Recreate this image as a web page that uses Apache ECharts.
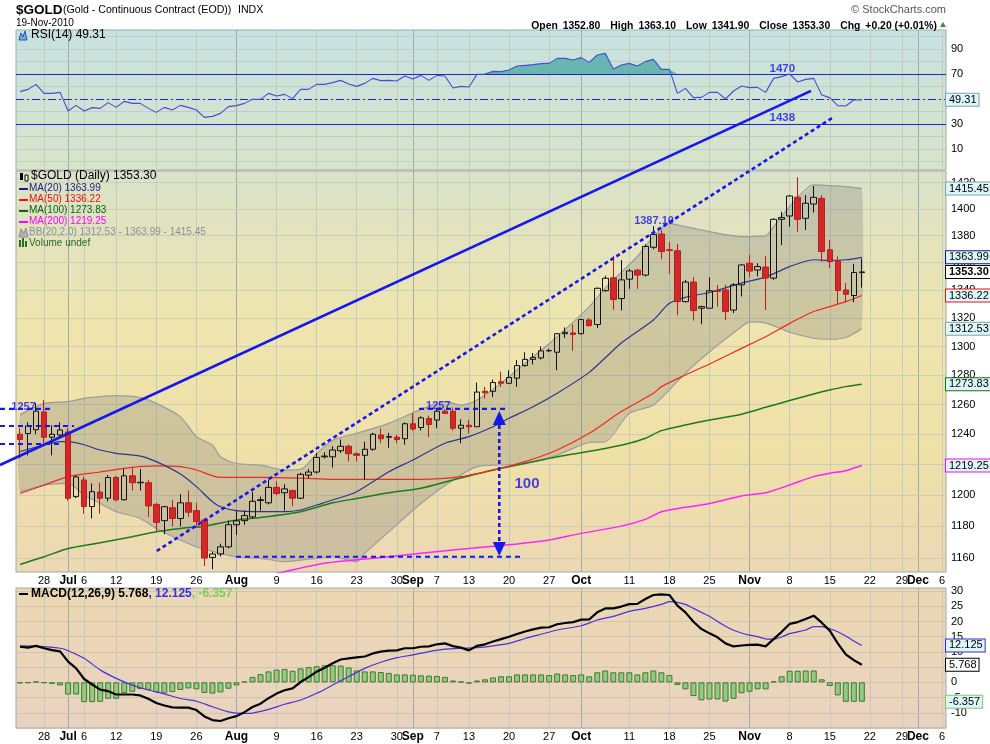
<!DOCTYPE html>
<html><head><meta charset="utf-8">
<script src="https://cdn.jsdelivr.net/npm/echarts@6/dist/echarts.min.js"></script>
<style>html,body{margin:0;padding:0;background:#fff}#c{width:990px;height:744px}</style>
</head><body><div id="c"></div>
<script>
// ---------------- DATA ----------------
const holidays = ['2010-07-05','2010-09-06','2010-11-25'];
const dates = [];
for (let d = new Date(Date.UTC(2010,5,23)); d <= new Date(Date.UTC(2010,11,6)); d.setUTCDate(d.getUTCDate()+1)) {
  const wd = d.getUTCDay(); const s = d.toISOString().slice(0,10);
  if (wd === 0 || wd === 6 || holidays.includes(s)) continue;
  dates.push(s);
}
const tickIdx  = [3,6,8,12,17,22,27,32,37,42,47,49,52,56,61,66,70,76,81,86,91,96,101,106,110,112,115];
const tickText = ['28','Jul','6','12','19','26','Aug','9','16','23','30','Sep','7','13','20','27','Oct','11','18','25','Nov','8','15','22','29','Dec','6'];
const monthIdx = [6,27,49,70,91,112];

const opens = [1240,1240.5,1243,1255,1238,1239.5,1241.5,1199,1209.8,1192.6,1202,1198,1211.4,1197,1212.5,1208,1208,1194,1183.6,1191.8,1185,1195,1190,1184,1160.4,1162.5,1167,1181,1183.6,1186,1196.5,1195,1205,1201.5,1203,1198,1213,1215,1225,1225,1229,1232,1227,1226,1230,1239.5,1238,1238,1237,1247,1244.5,1250.5,1249.5,1255.5,1255.5,1244,1246,1245,1269,1269,1275.5,1274.5,1278,1286.7,1291,1292,1297,1296,1309,1309.5,1309,1318.7,1315.5,1339.7,1349,1334,1348,1354.6,1351,1371.4,1381.2,1369.5,1368.8,1331.8,1345.9,1327.1,1327.1,1339.8,1340.2,1325.8,1343.9,1359.6,1354.7,1356.8,1348.8,1392.2,1394.7,1408.8,1393,1403.7,1408,1369.5,1361.3,1340.2,1336.2,1352.8];
const closes = [1236.5,1245.5,1255.5,1238,1240,1242.8,1198,1211.8,1192.6,1202.2,1198,1211.4,1197,1212.5,1208,1208.3,1193,1182.5,1192.5,1185,1195,1189,1183,1160,1162.5,1167,1181,1183.5,1186.8,1196,1197,1205,1201,1204,1198,1213.5,1215,1224.6,1225.5,1229.5,1232,1227,1226,1230,1240,1237,1238.5,1236.5,1247,1243.5,1251,1246.5,1255.5,1254,1244,1246,1245,1268.5,1268,1275,1274.5,1278.5,1286.7,1291,1292.4,1297,1297.2,1309,1310,1308.5,1319,1314.7,1341.4,1348.7,1333.4,1347.5,1354,1351,1372,1380.9,1368.2,1369,1331.8,1345.9,1325.4,1328.2,1339.6,1339.2,1324.7,1343.9,1358.4,1353.9,1357.2,1348.8,1392.2,1393.5,1409.8,1392.2,1404.3,1408.8,1368.2,1360.8,1339.8,1337.1,1352.9,1353.3];
const lows = [1224,1226,1240,1234,1226,1237,1196.4,1198,1188,1185,1188,1196,1196,1196.5,1203,1203,1186,1177,1175,1180,1180,1186,1180,1155,1153,1161,1166,1174.5,1181,1185,1190,1194,1200,1190,1193,1197.5,1211,1214,1224,1218,1227.5,1222,1222,1210,1229,1234,1231,1234,1233,1242.5,1242.5,1238,1244,1254,1242.5,1234,1240.5,1245,1264,1265,1272,1274.5,1272,1286,1287.5,1291,1296,1283.5,1306,1297,1308.5,1314,1313,1339,1326,1325.5,1341,1341,1350,1369.9,1362.6,1352,1322,1331.2,1318.3,1315.7,1327,1328.2,1318.7,1323.6,1335.5,1349.5,1350,1325.8,1347.5,1373,1386.7,1383,1384.2,1397.2,1360.8,1356.1,1330.3,1331.2,1331.4,1341.9];
const highs = [1244,1248,1261,1263,1246,1248,1244,1213,1212,1207.6,1208,1213,1212.5,1217,1218,1217,1210,1195,1193,1197,1200.6,1203,1195,1185,1164,1169,1183.7,1190,1190,1202,1199,1210,1209,1207,1203.5,1214.5,1217,1227.5,1228,1232,1236.5,1233,1228,1235,1241,1244,1241,1239.5,1248,1254,1252,1252.5,1257,1257,1258,1250,1249.5,1275,1272,1277,1282.5,1283.5,1290.5,1296,1295.5,1300,1298.5,1309.5,1313.5,1315.5,1319.5,1319.8,1342,1350.5,1365,1362,1355.5,1355.5,1373.5,1387.1,1384.2,1375.5,1373.8,1347.5,1349.5,1329,1349.5,1343.9,1343.9,1345.2,1359,1365.7,1359.6,1365,1393,1397.9,1410.5,1424.2,1410.5,1417.4,1410.5,1376.8,1364.6,1345.2,1359.2,1363.1];

// moving averages / bands: [day index, value]
const ma20 = [[0,1228.5],[3,1232.8],[5,1235],[6,1235],[8,1233],[10,1229.5],[12,1227.3],[15,1225.5],[17,1221.8],[20,1213.7],[22,1205.5],[24,1195.7],[25,1192.5],[27,1190],[30,1189.3],[33,1189.3],[35,1190.4],[37,1193.6],[39,1196.8],[42,1202.2],[46,1215.2],[49,1222.9],[53,1234],[56,1238.4],[59,1245],[61,1250.7],[64,1258.5],[67,1267.7],[71,1282],[75,1302.4],[79,1318.7],[81,1330.6],[83,1334.9],[86,1338.4],[90,1345.2],[93,1349.5],[96,1357.2],[99,1362.2],[101,1361.7],[103,1362.2],[105,1363.99]];
const ma50 = [[0,1201],[3,1206.5],[6,1212],[10,1215],[14,1218],[17,1219],[20,1218.5],[22,1216.3],[25,1211.5],[30,1211.5],[35,1211],[39,1210.2],[42,1210.2],[50,1210.2],[55,1212],[59,1216.3],[63,1221.8],[67,1229.5],[71,1240.6],[75,1255.2],[79,1267.6],[80,1272.2],[83,1280.2],[86,1287.8],[90,1298.7],[93,1306.9],[96,1316.3],[99,1324.7],[101,1328.2],[103,1331.8],[105,1336.22]];
const ma100 = [[0,1156],[3,1160.8],[6,1166],[10,1169.6],[14,1173.4],[17,1176.5],[20,1178.6],[23,1180.1],[27,1184],[30,1185.6],[35,1189.3],[39,1195],[42,1197.8],[46,1201.5],[50,1204.4],[54,1209.8],[59,1216.3],[63,1220.6],[67,1225],[72,1229.5],[76,1234],[78,1237.3],[80,1242.4],[83,1246.2],[86,1249.5],[90,1253.4],[93,1258.1],[96,1262.7],[99,1267.2],[101,1269.9],[103,1272.2],[105,1273.83]];
const ma200 = [[31,1149.5],[33,1151.5],[38,1156.7],[46,1160.8],[54,1165],[62,1168.8],[66,1171.3],[70,1175.5],[75,1180.1],[78,1184.4],[80,1189.3],[83,1192.1],[86,1194.6],[90,1199.4],[93,1201.5],[96,1206.5],[99,1212],[101,1214.2],[103,1215.9],[105,1219.25]];
const bbUpper = [[0,1253],[3,1260.8],[6,1262],[8,1264.2],[10,1265.4],[12,1266],[15,1264.7],[17,1260.8],[20,1251.8],[22,1238.4],[24,1232.8],[25,1225],[27,1220.6],[30,1219.5],[33,1216.3],[35,1216.7],[37,1227],[39,1236],[42,1240.6],[46,1247.3],[50,1256.7],[53,1262],[55,1259.6],[57,1263.1],[60,1274.5],[63,1288.3],[67,1306.9],[71,1328.2],[73,1341.5],[77,1364.6],[79,1379.3],[81,1389],[83,1386.7],[86,1383],[90,1379.3],[93,1379.8],[94,1386.7],[96,1401.7],[99,1418.2],[101,1417.7],[103,1416.9],[105,1415.45]];
const bbLower = [[0,1202.2],[3,1206.5],[6,1207.6],[8,1200],[10,1194.6],[12,1189.3],[15,1185],[17,1178.6],[20,1171.3],[22,1167.1],[25,1162.9],[27,1160.8],[30,1159.8],[33,1157.7],[35,1158.7],[37,1159.8],[39,1160.8],[42,1157.7],[43,1162.9],[46,1176.5],[50,1194.6],[54,1209.8],[57,1218.5],[60,1219.6],[63,1220.6],[67,1226.2],[71,1234.5],[73,1235],[76,1254],[79,1259.6],[83,1281.5],[86,1296.3],[90,1313.9],[91,1317.4],[93,1316.7],[96,1310],[99,1305.8],[101,1305.1],[103,1306.3],[105,1312.53]];

const rsi = [55.9,57.7,61.7,54.5,54.5,55.3,40.4,44.9,40.4,43.1,42.5,47.1,43.3,48.1,46.5,46.5,42.5,39.3,43.3,41.2,44.9,43.3,41.2,35.3,36.1,38.5,43.9,44.7,46.5,49.7,49.7,54.5,52.4,53.7,50.3,57.7,57.7,61.7,61.7,63.1,64.9,62,60.1,62.5,66.5,64.7,64.9,64.4,68.4,66,68.9,64.9,68.9,68.4,58.8,60.1,59.6,69.7,70,72.1,71.9,73.2,76.4,76.9,77.5,78.3,78.5,82.5,82.5,81.2,83.1,79.3,85.2,86.5,74,77.2,78.5,76.4,79.9,81.7,73.7,73.7,54.5,58.5,51.1,51.3,55.3,55.3,50,56.4,60.4,59.1,59.3,55.3,66.5,67.9,70,63.6,65.7,66.5,53.2,51.1,44.7,44.4,49.2,49.31];

const macd = [11.7,11.4,12.0,11.2,10.6,10.2,6.8,4.6,1.1,-0.7,-2.4,-2.9,-4.0,-4.0,-4.0,-4.3,-5.4,-6.8,-7.6,-8.2,-8.3,-8.3,-9.1,-11.2,-12.4,-12.7,-11.8,-11.1,-9.8,-8.1,-7.0,-5.2,-3.7,-2.6,-2.0,0.1,1.7,3.5,4.8,6.3,7.5,7.9,8.2,8.5,9.5,10.1,10.4,10.5,11.2,11.2,11.7,11.8,12.5,12.8,11.9,11.4,10.5,12.0,12.5,13.4,14.2,15.0,15.9,16.7,17.4,18.0,18.1,19.1,19.5,19.8,20.6,20.7,23.0,24.3,24.3,24.9,25.7,25.8,27.4,28.7,28.9,28.7,25.2,23.0,19.9,17.5,16.1,14.8,12.8,11.8,12.1,12.3,12.4,11.8,14.2,16.6,19.2,19.8,20.8,21.9,19.6,17.0,12.8,9.2,7.3,5.768];
const signal = [[0,12.0],[2,11.9],[5,11.2],[6,10.4],[8,7.9],[10,4.1],[12,1.3],[14,-0.9],[16,-2.5],[18,-3.8],[20,-5.3],[22,-6.2],[24,-8.0],[26,-9.7],[28,-10.2],[29,-10.1],[31,-8.9],[33,-7.2],[35,-5.8],[37,-3.6],[39,-0.9],[41,1.9],[43,4.6],[45,6.6],[47,8.1],[49,9.0],[51,10.1],[53,10.9],[55,11.2],[57,11.4],[59,12.0],[61,12.8],[63,14.4],[65,15.8],[67,17.2],[70,18.6],[72,20.5],[74,21.7],[76,23.3],[78,24.3],[80,25.6],[81,26.5],[82,26.3],[83,25.6],[84,24.3],[85,23.0],[86,21.7],[87,20.0],[88,18.4],[89,17.1],[90,16.2],[91,15.5],[92,15.0],[93,14.3],[94,14.2],[95,14.9],[96,16.0],[97,16.6],[98,17.2],[99,18.3],[100,18.3],[101,17.6],[102,16.6],[103,15.2],[104,13.6],[105,12.125]];
const hist = [-0.3,-0.2,0.2,-0.2,-0.5,-1.0,-4.0,-4.0,-6.5,-6.5,-6.4,-5.4,-5.4,-3.5,-3.1,-2.2,-2.5,-3.2,-3.6,-3.2,-2.5,-2.0,-2.3,-3.5,-3.7,-3.3,-2.1,-1.0,0.3,1.8,2.7,3.6,4.2,4.4,3.8,4.6,5.0,5.3,5.6,5.6,5.5,4.9,3.9,3.6,3.6,3.4,3.1,2.6,2.6,2.5,2.3,2.2,2.1,1.8,0.6,0.2,-0.4,0.6,1.0,1.6,2.0,2.0,2.6,2.6,2.6,2.6,2.4,2.9,2.6,2.4,2.6,2.0,3.3,3.9,3.3,3.3,3.3,2.6,3.3,3.9,3.3,2.4,-0.9,-2.3,-4.5,-5.9,-5.6,-5.6,-6.3,-5.4,-3.6,-3.1,-2.3,-2.3,0.3,2.0,3.8,3.8,3.9,3.9,1.0,-1.2,-4.3,-6.4,-6.4,-6.357];

// axis tick values
const rsiTicks = [0,10,20,30,40,50,60,70,80,90,100];
const rsiLabels = [10,30,70,90];
const priceTicks = [1160,1180,1200,1220,1240,1260,1280,1300,1320,1340,1360,1380,1400,1420];
const macdTicks = [-15,-10,-5,0,5,10,15,20,25,30];

// hand-drawn annotations: [x1, price1, x2, price2] in day positions
const annoSegs = [
  [-2.5,1219.6, 98.66,1491.9],   // solid trend line
  [17.05,1164.4, 101.57,1471.4], // dotted channel line
  [-2.5,1257, 3.99,1257],
  [-2.5,1245.5, 6.73,1245.5],
  [-2.5,1233.5, 4.99,1233.5],
  [26.94,1160.8, 62.37,1160.8],
  [49.77,1257, 60.75,1257]
];
const annoKind = ['solid','dot','dash','dash','dash','dash','dash'];
const arrowPts = [[59.78,1250.9],[59.78,1165.6]];
const priceNotes = [{value:[0.44,1258.6],name:'1257'},{value:[52.18,1258.9],name:'1257'},{value:[79.08,1391.1],name:'1387.10'}];
const bigNote = [{value:[63.24,1207.5],name:'100'}];
const rsiNotes = [{value:[95.09,74.4],name:'1470'},{value:[95.09,35.2],name:'1438'}];

// ---------------- CHART ----------------
const FONT = "Arial, 'Liberation Sans', sans-serif";
const BLUE = '#1616ee';
const last = a => { const v = a[a.length-1]; return Array.isArray(v) ? v[1] : v; };
const N = dates.length;
const candles = opens.map((o,i)=>[o, closes[i], lows[i], highs[i]]);

function vLines(){ return tickIdx.map(i=>({xAxis: dates[i], lineStyle:{color: monthIdx.includes(i)?'#9eaca6':'#c3cbbd', width:1, type:'solid'}})); }
function hLines(vals, labels, col){
  return vals.map(v=>({yAxis:v, lineStyle:{color:col||'#c5ccbd', width:1, type:'solid'},
    label: labels.includes(v) ? {show:true, position:'end', distance:5, formatter:String(v), color:'#000', fontSize:11, fontFamily:FONT} : {show:false}}));
}
function tag(v, txt, bg, bc, bold){
  return {yAxis:v, lineStyle:{width:0, color:'rgba(0,0,0,0)'},
    label:{show:true, position:'end', distance:0, formatter:txt, backgroundColor:bg, borderColor:bc, borderWidth:1,
      padding:[1,2,0,3], color:'#000', fontSize:11, fontFamily:FONT, fontWeight: bold?'bold':'normal', lineHeight:11}};
}
const mlBase = {silent:true, symbol:'none', animation:false, label:{show:false}};

function catAxis(g, labels){
  return {type:'category', gridIndex:g, data:dates, boundaryGap:true,
    axisLine:{show:false}, axisTick:{show:false}, splitLine:{show:false},
    axisLabel: labels ? {show:true, margin:3, fontSize:11, color:'#000', fontFamily:FONT,
      interval:(i)=>tickIdx.includes(i),
      formatter:(v,i)=>{ const k=tickIdx.indexOf(i); if(k<0) return ''; const t=tickText[k]; return monthIdx.includes(i)?'{b|'+t+'}':t; },
      rich:{b:{fontWeight:'bold', fontSize:12, color:'#000', fontFamily:FONT}}} : {show:false}};
}
const grad = (stops)=>({type:'linear', x:0, y:0, x2:0, y2:1, colorStops: stops.map(s=>({offset:s[0], color:s[1]}))});
const ts = (size, color, weight)=>({fontFamily:FONT, fontSize:size, color:color||'#000', fontWeight:weight||'normal'});

const titles = [
  {text:'$GOLD', left:16, top:3, textStyle:ts(13.5,'#000','bold')},
  {text:'(Gold - Continuous Contract (EOD))', left:63, top:5, textStyle:ts(10.6)},
  {text:'INDX', left:238, top:5, textStyle:ts(10.6)},
  {text:'19-Nov-2010', left:16, top:18, textStyle:ts(10)},
  {text:'© StockCharts.com', right:44, top:4, textStyle:ts(11,'#555')},
  {text:'{k|Open} {v|'+opens[105].toFixed(2)+'}  {k|High} {v|'+highs[105].toFixed(2)+'}  {k|Low} {v|'+lows[105].toFixed(2)+'}  {k|Close} {v|'+closes[105].toFixed(2)+'}  {k|Chg} {v|+0.20 (+0.01%)}',
   right:53, top:17, textStyle:{rich:{k:{fontFamily:FONT, fontWeight:'bold', fontSize:10.4, color:'#000', lineHeight:12}, v:{fontFamily:FONT, fontSize:10.4, color:'#000', lineHeight:12}}}},
  {text:'RSI(14) '+last(rsi).toFixed(2), left:31, top:29, textStyle:ts(12)},
  {text:'$GOLD (Daily) '+closes[105].toFixed(2), left:31, top:170, textStyle:ts(12)},
  {text:'MA(20) '+last(ma20).toFixed(2), left:29, top:183, textStyle:ts(10,'#1c1c88')},
  {text:'MA(50) '+last(ma50).toFixed(2), left:29, top:194, textStyle:ts(10,'#f01010')},
  {text:'MA(100) '+last(ma100).toFixed(2), left:29, top:205, textStyle:ts(10,'#086808')},
  {text:'MA(200) '+last(ma200).toFixed(2), left:29, top:216, textStyle:ts(10,'#ff00ff')},
  {text:'BB(20,2.0) '+last(bbLower).toFixed(2)+' - '+last(ma20).toFixed(2)+' - '+last(bbUpper).toFixed(2), left:29, top:227, textStyle:ts(10,'#8a9096')},
  {text:'Volume undef', left:29, top:238, textStyle:ts(10,'#2a6a2a')},
  {text:'{a|MACD(12,26,9) '+last(macd).toFixed(3)+'}{b|, '+last(signal).toFixed(3)+'}{c|, '+last(hist).toFixed(3)+'}', left:31, top:588,
   textStyle:{rich:{a:{fontFamily:FONT, fontSize:12, color:'#000'}, b:{fontFamily:FONT, fontSize:12, color:'#3030ee'}, c:{fontFamily:FONT, fontSize:12, color:'#7ccc60'}}}}
].map(t=>Object.assign({padding:0, itemGap:0}, t));

const graphic = [
  {type:'polygon', silent:true, z:50, shape:{points:[[940,27],[943,22],[946,27]]}, style:{fill:'#2c9a2c'}},
  {type:'polygon', silent:true, z:50, shape:{points:[[19,40],[21,33],[23,37],[25,31],[27,40]]}, style:{fill:'#6cbab6', stroke:'#2a4ad0', lineWidth:1}},
  {type:'rect', silent:true, z:50, shape:{x:20,y:173,width:3,height:7}, style:{fill:'#000'}},
  {type:'rect', silent:true, z:50, shape:{x:25,y:175,width:3,height:6}, style:{fill:'#fff', stroke:'#000', lineWidth:1}},
  {type:'rect', silent:true, z:50, shape:{x:19,y:188,width:9,height:2}, style:{fill:'#1c1c88'}},
  {type:'rect', silent:true, z:50, shape:{x:19,y:199,width:9,height:2}, style:{fill:'#f01010'}},
  {type:'rect', silent:true, z:50, shape:{x:19,y:210,width:9,height:2}, style:{fill:'#086808'}},
  {type:'rect', silent:true, z:50, shape:{x:19,y:221,width:9,height:2}, style:{fill:'#ff00ff'}},
  {type:'polygon', silent:true, z:50, shape:{points:[[19,237],[21,229],[24,233],[26,228],[28,237]]}, style:{fill:'#b0b4b0', stroke:'#8a9096', lineWidth:1}},
  {type:'rect', silent:true, z:50, shape:{x:19,y:240,width:2,height:7}, style:{fill:'#2a6a2a'}},
  {type:'rect', silent:true, z:50, shape:{x:22,y:238,width:2,height:9}, style:{fill:'#2a6a2a'}},
  {type:'rect', silent:true, z:50, shape:{x:25,y:241,width:2,height:6}, style:{fill:'#2a6a2a'}},
  {type:'rect', silent:true, z:50, shape:{x:19,y:593,width:9,height:2}, style:{fill:'#000'}}
];

const lineS = (x,y,data,color,width,extra)=>Object.assign({type:'line', xAxisIndex:x, yAxisIndex:y, data, symbol:'none', silent:true,
  lineStyle:{color, width}, z:3, animation:false}, extra||{});

const annoStyle = {
  solid:{stroke:BLUE, lineWidth:2.6, fill:null},
  dot:{stroke:BLUE, lineWidth:2.6, lineDash:[4,3], fill:null},
  dash:{stroke:BLUE, lineWidth:2.2, lineDash:[5,4], fill:null}
};

const option = {
  animation:false,
  backgroundColor:'#ffffff',
  textStyle:{fontFamily:FONT},
  title: titles,
  graphic,
  grid:[
    {left:16, top:30, width:930, height:140, show:true, borderColor:'#9ea8ae', borderWidth:1, z:0,
     backgroundColor:grad([[0,'#c6e2e1'],[1,'#d9e4c9']])},
    {left:16, top:171, width:930, height:401, show:true, borderColor:'#9ea8ae', borderWidth:1, z:0,
     backgroundColor:grad([[0,'#d9e2c9'],[0.38,'#efe5ae'],[0.7,'#efe0a8'],[1,'#ecd8b4']])},
    {left:16, top:588, width:930, height:140, show:true, borderColor:'#9ea8ae', borderWidth:1, z:0,
     backgroundColor:grad([[0,'#ecd8b2'],[1,'#e9d3c1']])}
  ],
  xAxis:[
    catAxis(0,false), catAxis(1,true), catAxis(2,true),
    {type:'value', gridIndex:1, min:-0.5, max:N-0.5, show:false},
    {type:'value', gridIndex:0, min:-0.5, max:N-0.5, show:false}
  ],
  yAxis:[
    {type:'value', gridIndex:0, min:-6.8, max:105.2, position:'right', show:false},
    {type:'log', gridIndex:1, logBase:10, min:1151.3, max:1428.9, position:'right', show:false},
    {type:'value', gridIndex:2, min:-15.0, max:31.0, position:'right', show:false}
  ],
  series:[
    // ---- RSI panel
    {type:'line', xAxisIndex:0, yAxisIndex:0, data:[], silent:true,
     markLine:Object.assign({}, mlBase, {z:1, data: vLines().concat(hLines(rsiTicks, rsiLabels, '#c2cdc4')).concat([
       {yAxis:70, lineStyle:{color:'#2323d6', width:1.2, type:'solid'}},
       {yAxis:30, lineStyle:{color:'#2323d6', width:1.2, type:'solid'}},
       {yAxis:50, lineStyle:{color:'#2323d6', width:1, type:[8,3,2,3]}}])})},
    lineS(0,0, rsi.map(()=>70), 'rgba(0,0,0,0)', 0, {stack:'ob', z:2}),
    lineS(0,0, rsi.map(v=>Math.max(v-70,0)), 'rgba(0,0,0,0)', 0, {stack:'ob', z:2, areaStyle:{color:'#67b6b2', opacity:1}}),
    lineS(0,0, rsi, '#4b4bd4', 1.1, {z:4}),
    {type:'line', xAxisIndex:0, yAxisIndex:0, data:[], silent:true,
     markLine:Object.assign({}, mlBase, {z:10, data:[tag(last(rsi), last(rsi).toFixed(2), '#dcf6f9', '#7fa2aa')]})},
    {type:'scatter', xAxisIndex:4, yAxisIndex:0, data:rsiNotes, symbolSize:1, itemStyle:{color:'rgba(0,0,0,0)'}, silent:true, z:8,
     label:{show:true, position:'inside', formatter:'{b}', color:BLUE, fontWeight:'bold', fontSize:11.5, fontFamily:FONT}},

    // ---- price panel
    {type:'line', xAxisIndex:1, yAxisIndex:1, data:[], silent:true,
     markLine:Object.assign({}, mlBase, {z:1, data: vLines().concat(hLines(priceTicks, priceTicks, '#cdcdb6'))})},
    {type:'custom', xAxisIndex:1, yAxisIndex:1, data:[[0,1300]], silent:true, z:2, clip:true,
     renderItem:(params, api)=>{
       const pts = bbUpper.map(p=>api.coord(p)).concat(bbLower.slice().reverse().map(p=>api.coord(p)));
       return {type:'polygon', shape:{points:pts, smooth:0.15}, style:{fill:'rgba(120,120,120,0.27)'}};
     }},
    lineS(1,1, bbUpper, '#9a9d9e', 1.2, {smooth:0.25}),
    lineS(1,1, bbLower, '#9a9d9e', 1.2, {smooth:0.25}),
    lineS(1,1, ma200, '#ff22ff', 1.5, {smooth:0.25}),
    lineS(1,1, ma100, '#1e7a1e', 1.5, {smooth:0.25}),
    lineS(1,1, ma50, '#ee2a22', 1.2, {smooth:0.25}),
    lineS(1,1, ma20, '#2e3494', 1.2, {smooth:0.25}),
    {type:'candlestick', xAxisIndex:1, yAxisIndex:1, data:candles, barWidth:6, silent:true, z:5,
     itemStyle:{color:'rgba(255,255,255,0)', color0:'#d22828', borderColor:'#111111', borderColor0:'#b81c1c', borderColorDoji:'#111111', borderWidth:1}},
    {type:'custom', xAxisIndex:3, yAxisIndex:1, data:annoSegs, silent:true, z:6, clip:false,
     encode:{x:[0,2], y:[1,3]},
     renderItem:(params, api)=>{
       const p1 = api.coord([api.value(0), api.value(1)]);
       const p2 = api.coord([api.value(2), api.value(3)]);
       return {type:'line', shape:{x1:p1[0], y1:p1[1], x2:p2[0], y2:p2[1]}, style:annoStyle[annoKind[params.dataIndex]]};
     }},
    {type:'line', xAxisIndex:3, yAxisIndex:1, silent:true, z:6, clip:false,
     data:[{value:arrowPts[0], symbolRotate:0},{value:arrowPts[1], symbolRotate:180}],
     symbol:'triangle', symbolSize:[13,14], showSymbol:true, itemStyle:{color:BLUE},
     lineStyle:{color:BLUE, width:2.6, type:[4,3]}},
    {type:'scatter', xAxisIndex:3, yAxisIndex:1, data:priceNotes, symbolSize:1, itemStyle:{color:'rgba(0,0,0,0)'}, silent:true, z:8,
     label:{show:true, position:'inside', formatter:'{b}', color:BLUE, fontWeight:'bold', fontSize:11, fontFamily:FONT}},
    {type:'scatter', xAxisIndex:3, yAxisIndex:1, data:bigNote, symbolSize:1, itemStyle:{color:'rgba(0,0,0,0)'}, silent:true, z:8,
     label:{show:true, position:'inside', formatter:'{b}', color:BLUE, fontWeight:'bold', fontSize:15, fontFamily:FONT}},
    {type:'line', xAxisIndex:1, yAxisIndex:1, data:[], silent:true,
     markLine:Object.assign({}, mlBase, {z:10, data:[
       tag(last(bbUpper), last(bbUpper).toFixed(2), '#dcf6f9', '#7fa2aa'),
       tag(last(ma20), last(ma20).toFixed(2), '#dcf6f9', '#14147a'),
       tag(last(bbLower), last(bbLower).toFixed(2), '#dcf6f9', '#7fa2aa'),
       tag(last(ma50), last(ma50).toFixed(2), '#dcf6f9', '#ee1111'),
       tag(last(closes), last(closes).toFixed(2), '#ffffff', '#000000', true),
       tag(last(ma100), last(ma100).toFixed(2), '#dcf6f9', '#117711'),
       tag(last(ma200), last(ma200).toFixed(2), '#dcf6f9', '#ff00ff')]})},

    // ---- MACD panel
    {type:'line', xAxisIndex:2, yAxisIndex:2, data:[], silent:true,
     markLine:Object.assign({}, mlBase, {z:1, data: vLines().concat(hLines(macdTicks, macdTicks.filter(v=>v>-15), '#d2c4ac'))})},
    {type:'bar', xAxisIndex:2, yAxisIndex:2, data:hist, barWidth:6, silent:true, z:2,
     itemStyle:{color:'#92ca7e', borderColor:'#3e7a32', borderWidth:1}},
    lineS(2,2, signal, '#4d2fdc', 1.2, {smooth:0.25}),
    lineS(2,2, macd, '#000000', 2.2, {z:4}),
    {type:'line', xAxisIndex:2, yAxisIndex:2, data:[], silent:true,
     markLine:Object.assign({}, mlBase, {z:10, data:[
       tag(last(signal), last(signal).toFixed(3), '#dcf6f9', '#3030cc'),
       tag(last(macd), last(macd).toFixed(3), '#ffffff', '#000000'),
       tag(last(hist), last(hist).toFixed(3), '#dcf6f9', '#7ccc60')]})}
  ]
};
const chart = echarts.init(document.getElementById('c'), null, {renderer:'canvas'});
chart.setOption(option);
</script></body></html>
